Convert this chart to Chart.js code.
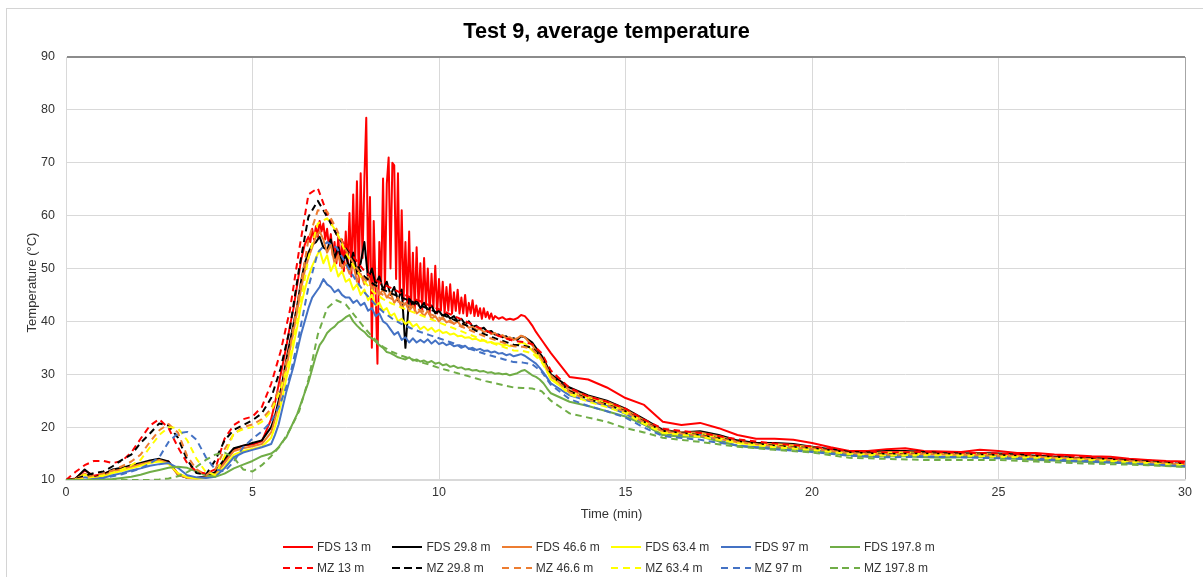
<!DOCTYPE html>
<html>
<head>
<meta charset="utf-8">
<title>Test 9, average temperature</title>
<script src="https://cdn.jsdelivr.net/npm/chart.js@4.4.1/dist/chart.umd.min.js"></script>
<style>
  html, body { margin: 0; padding: 0; background: #fff; overflow: hidden; }
  #wrap { position: relative; width: 1203px; height: 577px; overflow: hidden; }
  #frame { position: absolute; left: 6px; top: 8px; width: 1300px; height: 700px; border: 1px solid #d4d4d4; }
  #chart { position: absolute; left: 0; top: 0; }
  #legend { position: absolute; left: 0; top: 0; font: 12px "Liberation Sans", Arial, sans-serif; color: #333; }
  .item { position: absolute; height: 14px; line-height: 14px; white-space: nowrap; }
  .swatch { position: absolute; left: 0; top: 6px; width: 30px; height: 2px; }
  .txt { position: absolute; left: 34px; top: 0; }
</style>
</head>
<body>
<div id="wrap">
  <div id="frame"></div>
  <canvas id="chart" width="1203" height="577"></canvas>
  <div id="legend"></div>
</div>
<script>
const chartTitle = 'Test 9, average temperature';
const xTitle = 'Time (min)';
const yTitle = 'Temperature (°C)';

// time axis (min) for most FDS curves
const timeFds = [
  0, 0.25, 0.5, 0.75, 1, 1.25, 1.5, 1.75, 2, 2.25, 2.5, 2.75, 3, 3.25, 3.5, 3.75, 4, 4.25, 4.5, 4.75, 5, 5.25, 5.5,
  5.6, 5.7, 5.8, 5.9, 6, 6.1, 6.2, 6.3, 6.4, 6.5,
  6.6, 6.7, 6.8, 6.9, 7, 7.1, 7.2, 7.3, 7.4, 7.5,
  7.6, 7.7, 7.8, 7.9, 8, 8.1, 8.2, 8.3, 8.4, 8.5,
  8.6, 8.7, 8.8, 8.9, 9, 9.1, 9.2, 9.3, 9.4, 9.5,
  9.6, 9.7, 9.8, 9.9, 10, 10.1, 10.2, 10.3, 10.4, 10.5,
  10.6, 10.7, 10.8, 10.9, 11, 11.1, 11.2, 11.3, 11.4, 11.5,
  11.6, 11.7, 11.8, 11.9, 12, 12.1, 12.2, 12.3, 12.4, 12.5,
  12.6, 12.7, 12.8, 12.9, 13,
  13.5, 14, 14.5, 15, 15.5, 16, 16.5, 17, 17.5, 18, 18.5, 19, 19.5, 20, 20.5, 21, 21.5, 22, 22.5, 23,
  23.5, 24, 24.5, 25, 25.5, 26, 26.5, 27, 27.5, 28, 28.5, 29, 29.5, 30
];

const timeFds13 = [
  0, 0.25, 0.5, 0.75, 1, 1.25, 1.5, 1.75, 2, 2.25, 2.5, 2.75, 3, 3.25, 3.5, 3.75, 4, 4.25, 4.5, 4.75, 5, 5.25, 5.5,
  5.6, 5.7, 5.8, 5.9, 6, 6.1, 6.2, 6.3, 6.4,
  6.5, 6.55, 6.6, 6.65, 6.7, 6.75, 6.8, 6.85, 6.9, 6.95,
  7, 7.05, 7.1, 7.15, 7.2, 7.25, 7.3, 7.35, 7.4, 7.45,
  7.5, 7.55, 7.6, 7.65, 7.7, 7.75, 7.8, 7.85, 7.9, 7.95,
  8, 8.05, 8.1, 8.15, 8.2, 8.25, 8.3, 8.35, 8.4, 8.45,
  8.5, 8.55, 8.6, 8.65, 8.7, 8.75, 8.8, 8.85, 8.9, 8.95,
  9, 9.05, 9.1, 9.15, 9.2, 9.25, 9.3, 9.35, 9.4, 9.45,
  9.5, 9.55, 9.6, 9.65, 9.7, 9.75, 9.8, 9.85, 9.9, 9.95,
  10, 10.05, 10.1, 10.15, 10.2, 10.25, 10.3, 10.35, 10.4, 10.45,
  10.5, 10.55, 10.6, 10.65, 10.7, 10.75, 10.8, 10.85, 10.9, 10.95,
  11, 11.05, 11.1, 11.15, 11.2, 11.25, 11.3, 11.35, 11.4, 11.45, 11.5,
  11.6, 11.7, 11.8, 11.9, 12, 12.1, 12.2, 12.3, 12.4, 12.5,
  12.6, 12.7, 12.8, 12.9, 13,
  13.5, 14, 14.5, 15, 15.5, 16, 16.5, 17, 17.5, 18, 18.5, 19, 19.5, 20, 20.5, 21, 21.5, 22, 22.5, 23,
  23.5, 24, 24.5, 25, 25.5, 26, 26.5, 27, 27.5, 28, 28.5, 29, 29.5, 30
];

// time axis (min) for the MZ curves
const timeMz = [
  0, 0.25, 0.5, 0.75, 1, 1.25, 1.5, 1.75, 2, 2.25,
  2.5, 2.75, 3, 3.25, 3.5, 3.75, 4, 4.25, 4.5, 4.75,
  5, 5.25, 5.5, 5.75, 6, 6.25, 6.5, 6.75, 7, 7.25,
  7.5, 7.75, 8, 8.25, 8.5, 8.75, 9, 9.25, 9.5, 9.75,
  10, 10.25, 10.5, 10.75, 11, 11.25, 11.5, 11.75, 12, 12.25,
  12.5, 12.75, 13,
  13.5, 14, 14.5, 15, 15.5, 16,
  17, 18, 19, 20, 21, 22, 23, 24, 25, 26, 27, 28, 29, 30
];

const fds13 = [
  10, 10.3, 11.8, 10.8, 11.2, 11.8, 12.2, 12.5, 12.9, 13.5, 13.8, 13.5, 11.2, 10.5, 10.4, 10.6, 11.2, 13.5, 15.8, 16.5, 16.7, 17.3, 21.5,
  24.5, 28, 31.5, 35, 39, 42.5, 47, 51.5, 54.5,
  56, 55, 57.5, 55.5, 58, 56, 59, 57, 58.5, 55.5,
  57.5, 54, 56.5, 52.5, 55, 51, 56, 50.5, 55.5, 49.5,
  57, 50, 60.5, 48.5, 64, 50, 66.5, 47, 68, 52,
  67, 78.5, 49, 63.5, 35, 59, 46, 32, 55, 47,
  67, 46, 66, 71, 50, 70, 69.5, 48, 68, 45,
  61, 44, 55, 43.5, 57, 42.5, 53, 42, 54, 43,
  51, 42, 52, 43, 50, 41.5, 49, 42.5, 50.5, 41.5,
  48, 42, 47.5, 41.5, 46.5, 42, 47, 41.5, 45.5, 42,
  46, 41.5, 44.5, 41.5, 45, 41, 43.5, 41.5, 44, 41,
  43, 41, 42.5, 40.5, 42.5, 40.8, 41.8, 40.5, 41.5, 40.3, 41,
  40.5, 40.8, 40.3, 40.5, 40.3, 40.6, 41.2, 41, 40.2, 39.2,
  38, 37, 36, 35, 34,
  29.5, 29, 27.5, 25.5, 24.2, 21, 20.4, 20.8, 19.8, 18.5, 17.8, 17.8, 17.6, 17, 16.2, 15.5, 15.5, 15.8, 16, 15.5,
  15.4, 15.3, 15.7, 15.5, 15.1, 15.1, 14.8, 14.7, 14.5, 14.4, 14, 13.8, 13.6, 13.5
];
const fds29 = [
  10, 10.2, 12, 10.5, 11, 12, 12.3, 12.8, 13.2, 13.7, 14, 13.5, 11, 10.4, 10.4, 10.7, 11.5, 14, 16, 16.5, 17, 17.5, 20,
  22, 25, 28.5, 32.5, 36, 39.5, 43, 47.5, 51, 53,
  54.5, 55, 56, 54, 53.5, 55.5, 52, 54, 51, 52.5,
  50, 53, 49, 51, 55, 48, 50, 47, 48.5, 46,
  47.5, 45, 46.5, 44, 46, 35, 44.5, 43, 44, 42.5,
  43.5, 42, 43, 41.5, 42, 41, 41.5, 40.5, 41, 40,
  40.5, 39.5, 40, 39, 39.2, 38.5, 38.8, 38, 38.2, 37.5,
  37.5, 37, 37.2, 36.5, 36.8, 36.5, 37.2, 37, 36.5, 36,
  35, 34, 33, 31.5, 30,
  27.5, 26, 25, 23.5, 21.5, 19.5, 19, 19.2, 18.5, 17.5, 17, 17, 16.8, 16.3, 15.8, 15.3, 15.2, 15.5, 15.5, 15.3,
  15.1, 15, 15.1, 15, 14.8, 14.6, 14.4, 14.2, 14.1, 14, 13.7, 13.4, 13.1, 12.9
];
const fds46 = [
  10, 10.1, 11.2, 10.4, 10.8, 11.6, 12, 12.5, 13, 13.4, 13.8, 13.2, 11, 10.4, 10.3, 10.5, 11, 13.2, 15.5, 16, 16.4, 16.8, 19,
  21.5, 24, 27.5, 31, 34.5, 38, 42, 46, 49.5, 52,
  54, 56, 57, 55.5, 53, 54.5, 51, 52.5, 50, 51,
  49, 51, 47.5, 49, 47, 48.5, 46, 47, 45, 46,
  44.5, 45.5, 43.5, 44.5, 42.5, 43.5, 42, 43, 41.5, 42,
  41, 42, 40.5, 41, 40, 40.8, 39.8, 40.2, 39.5, 40,
  39, 39.5, 38.8, 39, 38.4, 38.6, 38, 38.2, 37.6, 37.8,
  37.2, 37.4, 36.8, 37, 36.5, 36.8, 37.3, 37, 36.2, 35.5,
  34.5, 33.5, 32.5, 31, 29.5,
  27, 25.8, 24.8, 23.3, 21.3, 19.3, 19, 19, 18.3, 17.3, 16.8, 16.8, 16.6, 16.2, 15.6, 15.1, 15, 15.3, 15.3, 15.1,
  14.9, 14.9, 15, 14.8, 14.6, 14.4, 14.2, 14, 13.9, 13.8, 13.5, 13.2, 13, 12.8
];
const fds63 = [
  10, 10.1, 11, 10.3, 10.6, 11.3, 11.7, 12.2, 12.7, 13.2, 13.5, 13, 11.3, 10.5, 10.3, 10.4, 10.8, 12.5, 14.8, 15.5, 15.9, 16.3, 18,
  20, 22.5, 25.5, 29, 32, 35.5, 39, 43, 46, 48.5,
  50.5, 52, 53.5, 51, 52.5, 49.5, 51, 48.5, 49.5, 47.5,
  48, 46, 47, 45, 46, 44, 45, 43, 43.5, 42,
  42.5, 41, 41.5, 40, 40.5, 39.5, 40, 39, 39.5, 38.5,
  39, 38.3, 38.8, 38, 38.4, 37.8, 38, 37.5, 37.7, 37.2,
  37.3, 36.9, 37, 36.6, 36.7, 36.3, 36.4, 36, 36.1, 35.8,
  35.8, 35.5, 35.6, 35.3, 35.4, 35.5, 36, 35.8, 35.2, 34.5,
  33.8, 33, 32, 30.5, 29,
  26.5, 25.5, 24.5, 23, 21, 19, 18.7, 18.7, 18, 17, 16.6, 16.6, 16.4, 16, 15.4, 14.9, 14.8, 15.1, 15.1, 14.9,
  14.8, 14.7, 14.8, 14.7, 14.5, 14.3, 14.1, 13.9, 13.8, 13.7, 13.4, 13.1, 12.9, 12.7
];
const fds97 = [
  10, 10, 10.5, 10.2, 10.4, 10.9, 11.3, 11.8, 12.2, 12.7, 13, 13.2, 12.3, 10.9, 10.5, 10.4, 10.6, 12.2, 14.3, 15.2, 15.7, 16.2, 16.8,
  18.5, 20.5, 23.5, 26.5, 29, 31.5, 34.5, 37.5, 40, 42.5,
  44.5, 45.5, 46.5, 48, 47, 46.5, 45.5, 46, 45, 44.5,
  44.5, 43.5, 44, 43, 43.5, 42, 42.5, 41, 41.5, 40,
  39.5, 38.5, 37.5, 38, 36.5, 37, 36, 36.8, 36, 36.5,
  36, 36.6, 35.8, 36.4, 35.7, 36, 35.5, 35.8, 35.3, 35.5,
  35, 35.4, 34.8, 35, 34.6, 34.8, 34.4, 34.5, 34.1, 34.3,
  33.9, 34, 33.6, 33.8, 33.4, 33.6, 33.8, 33.5, 33, 32.5,
  32, 31.2, 30.3, 29.3, 28.3,
  26, 25, 24, 22.5, 20.5, 18.5, 18.5, 18.5, 17.5, 16.5, 16.2, 16.2, 16, 15.7, 15.2, 14.8, 14.5, 14.7, 14.7, 14.5,
  14.4, 14.4, 14.5, 14.5, 14.2, 14, 13.9, 13.7, 13.6, 13.5, 13.2, 13, 12.8, 12.6
];
const fds197 = [
  10, 10, 10, 10, 10.1, 10.2, 10.4, 10.6, 11, 11.5, 11.9, 12.3, 12.5, 12.3, 11.6, 10.9, 10.6, 11.2, 12.2, 12.9, 13.6, 14.5, 15,
  15.5, 16.2, 17.2, 18, 19.5, 21, 22.5, 24.5, 26.5, 28.5,
  31, 33.5, 35.5, 36.5, 37.8, 38.5, 39, 39.8, 40.2, 40.8,
  41.2, 40, 39.2, 38.5, 38, 37.2, 36.8, 36.2, 35.5, 35,
  34.2, 34, 33.6, 33.2, 33, 32.8, 33.2, 32.6, 32.8, 32.4,
  32.6, 32.2, 32.5, 32, 32.2, 31.7, 31.9, 31.4, 31.6, 31.2,
  31.3, 30.9, 31, 30.7, 30.8, 30.5, 30.6, 30.3, 30.4, 30.1,
  30.2, 30, 30.1, 29.8, 30, 30.2, 30.6, 30.8, 30.3, 29.8,
  29.5, 29, 28.3, 27.3, 26.4,
  24.8, 24, 23, 22, 20.5, 18.5, 18.2, 18.2, 17.3, 16.5, 16.1, 16, 15.8, 15.5, 15.1, 14.7, 14.4, 14.5, 14.5, 14.3,
  14.2, 14.3, 14.3, 14.2, 14, 13.8, 13.7, 13.5, 13.4, 13.3, 13.1, 12.9, 12.7, 12.5
];

const mz13 = [
  10, 11.5, 12.8, 13.6, 13.6, 13.2, 13.6, 15.2, 17.8, 20.3,
  21.5, 19.8, 16.2, 13.2, 11.6, 11.2, 12, 17.8, 20.4, 21.5,
  22, 23.8, 28.2, 34.2, 42, 53.5, 64, 65.2, 60.4, 56.5,
  54.3, 51.8, 49.5, 48, 47, 46.2, 45.3, 44.5, 43.8, 43,
  42.3, 41.5, 40.7, 39.9, 39, 38.3, 37.5, 36.9, 36.3, 36.1,
  35.7, 34, 30.7,
  27.4, 25.8, 24.8, 23.5, 21.4, 19.7,
  18.9, 17.7, 16.9, 16.3, 15.5, 15.2, 15.3, 15.2, 15, 14.8, 14.5, 14.1, 13.7, 13.2
];
const mz29 = [
  10, 10.2, 10.8, 11.3, 11.6, 12.6, 13.8, 14.8, 17, 18.8,
  20.7, 20.3, 18, 13.8, 11.3, 11, 13.7, 17.5, 19.5, 20.4,
  21.3, 22.6, 25.5, 31, 38.5, 50, 59.8, 62.8, 59.8, 56.5,
  53.8, 51, 48.5, 47, 46, 45.2, 44.5, 43.8, 43, 42.3,
  41.5, 40.8, 40, 39.2, 38.2, 37.5, 36.8, 36.2, 35.6, 35.4,
  35, 33.3, 30,
  26.8, 25.3, 24.3, 23, 21, 19.3,
  18.5, 17.3, 16.5, 16, 15.2, 14.9, 15, 14.9, 14.7, 14.5, 14.2, 13.9, 13.5, 13
];
const mz46 = [
  10, 10.1, 10.4, 10.8, 11.2, 11.8, 12.6, 13.5, 14.8, 17.2,
  19.4, 20.6, 19, 14.5, 12, 10.9, 12, 15.8, 18.7, 20,
  20.5, 21.5, 23.5, 28, 35, 45, 55.5, 61, 60.8, 57.5,
  53.5, 50.5, 48, 46.2, 45, 44.2, 43.5, 42.8, 42.1, 41.4,
  40.7, 40, 39.3, 38.6, 37.8, 37.1, 36.5, 35.9, 35.3, 35.2,
  34.8, 33, 29.8,
  26.6, 25.2, 24.2, 22.9, 20.9, 19.2,
  18.4, 17.2, 16.4, 15.9, 15.1, 14.8, 14.9, 14.8, 14.6, 14.4, 14.1, 13.8, 13.4, 12.9
];
const mz63 = [
  10, 10, 10.2, 10.5, 10.9, 11.4, 12, 12.8, 13.8, 16.2,
  18.5, 20, 19.8, 17.5, 14, 11.5, 11, 14.5, 18.9, 19.6,
  20, 21, 23, 27, 33, 42, 52, 58.5, 59.5, 57,
  53, 50, 47.5, 45.5, 44.2, 43.3, 42.6, 41.9, 41.2, 40.5,
  39.8, 39.1, 38.4, 37.7, 37, 36.3, 35.7, 35.1, 34.5, 34.4,
  34, 32.3, 29.3,
  26.2, 24.8, 23.8, 22.6, 20.6, 18.9,
  18.2, 17, 16.2, 15.7, 14.9, 14.6, 14.7, 14.6, 14.4, 14.2, 13.9, 13.6, 13.2, 12.8
];
const mz97 = [
  10, 10, 10, 10.2, 10.4, 10.7, 11.1, 11.6, 12.2, 13.1,
  14.3, 17.2, 18.8, 19.1, 17.6, 14.3, 12, 11.6, 13.5, 16.2,
  17.8, 19.2, 21, 24.5, 29.5, 37.5, 46.5, 53, 55, 54,
  51, 48, 45.5, 43.5, 41.8, 40.5, 39.5, 38.7, 38, 37.4,
  36.8, 36.2, 35.6, 35, 34.4, 33.8, 33.3, 32.8, 32.3, 32.2,
  31.9, 30.5, 28,
  25.3, 24, 23, 21.8, 19.9, 18.3,
  17.6, 16.5, 15.8, 15.3, 14.6, 14.3, 14.4, 14.3, 14.1, 13.9, 13.6, 13.3, 13, 12.6
];
const mz197 = [
  10, 10, 10, 10, 10, 10, 10, 10, 10, 10,
  10.1, 10.3, 10.7, 11.5, 12.5, 13.8, 14.8, 15.2, 14.2, 12,
  11.6, 12.8, 14.5, 16.5, 19.5, 23, 29, 37.5, 42.5, 44,
  43.2, 41, 38.8, 36.8, 35.2, 34.2, 33.5, 32.9, 32.3, 31.8,
  31.2, 30.7, 30.2, 29.7, 29.2, 28.7, 28.3, 27.9, 27.5, 27.4,
  27.3, 26.8, 25,
  22.6, 21.8, 21, 19.8, 19, 18,
  17.2, 16.3, 15.7, 15.2, 14.2, 14, 13.8, 13.8, 13.8, 13.5, 13.2, 13, 12.8, 12.5
];

const seriesLabels = ['FDS 13 m', 'FDS 29.8 m', 'FDS 46.6 m', 'FDS 63.4 m', 'FDS 97 m', 'FDS 197.8 m',
                      'MZ 13 m', 'MZ 29.8 m', 'MZ 46.6 m', 'MZ 63.4 m', 'MZ 97 m', 'MZ 197.8 m'];
const seriesValues = [fds13, fds29, fds46, fds63, fds97, fds197, mz13, mz29, mz46, mz63, mz97, mz197];
const seriesTimes = [timeFds13, timeFds, timeFds, timeFds, timeFds, timeFds,
                     timeMz, timeMz, timeMz, timeMz, timeMz, timeMz];
const palette = ['#FF0000', '#000000', '#ED7D31', '#FFFF00', '#4472C4', '#70AD47'];

const FONT = '"Liberation Sans", Arial, Helvetica, sans-serif';
const TXT = '#333333';
const GRID = '#d9d9d9';

const datasets = seriesLabels.map((label, i) => {
  const isMz = i >= 6;
  const vals = seriesValues[i];
  return {
    label: label,
    data: seriesTimes[i].map((t, k) => ({ x: t, y: vals[k] })),
    borderColor: palette[i % 6],
    backgroundColor: palette[i % 6],
    borderWidth: 2,
    borderDash: isMz ? [6.5, 4.5] : [],
    borderJoinStyle: 'round',
    pointRadius: 0,
    tension: 0,
    fill: false,
    order: 12 - i   // later series sit on top, like the source chart
  };
});

// chart title and axis titles, placed where the source chart has them
const textsPlugin = {
  id: 'texts',
  afterDraw(chart) {
    const ctx = chart.ctx;
    const area = chart.chartArea;
    ctx.save();
    ctx.textAlign = 'center';
    ctx.textBaseline = 'middle';
    ctx.fillStyle = '#000';
    ctx.font = 'bold 21.7px ' + FONT;
    ctx.fillText(chartTitle, 606.5, 32);
    ctx.fillStyle = TXT;
    ctx.font = '13px ' + FONT;
    ctx.fillText(xTitle, (area.left + area.right) / 2 - 14, 514);
    ctx.translate(32, (area.top + area.bottom) / 2 + 14);
    ctx.rotate(-Math.PI / 2);
    ctx.fillText(yTitle, 0, 0);
    ctx.restore();
  }
};

new Chart(document.getElementById('chart').getContext('2d'), {
  type: 'line',
  data: { datasets: datasets },
  plugins: [textsPlugin],
  options: {
    responsive: false,
    animation: false,
    events: [],
    layout: { padding: { left: 0, right: 18, top: 57, bottom: 0 } },
    plugins: {
      legend: { display: false },
      tooltip: { enabled: false },
      title: { display: false }
    },
    scales: {
      x: {
        type: 'linear', min: 0, max: 30,
        ticks: { stepSize: 5, padding: 5, color: TXT, font: { family: FONT, size: 12.5 } },
        grid: {
          color: c => (c.tick && c.tick.value === 30) ? '#a6a6a6' : GRID,
          drawTicks: false
        },
        border: { color: GRID, width: 1.5 },
        afterFit: s => { s.height = 97; }
      },
      y: {
        min: 10, max: 90,
        ticks: { stepSize: 10, padding: 11, color: TXT, font: { family: FONT, size: 12.5 } },
        grid: {
          color: c => (c.tick && c.tick.value === 90) ? '#8c8c8c' : GRID,
          lineWidth: c => (c.tick && c.tick.value === 90) ? 2 : 1,
          drawTicks: false
        },
        border: { color: GRID },
        afterFit: s => { s.width = 66; }
      }
    }
  }
});

// legend: two rows of six, laid out like the source chart
const legend = document.getElementById('legend');
seriesLabels.forEach((label, i) => {
  const col = i % 6, row = Math.floor(i / 6);
  const color = palette[col];
  const item = document.createElement('div');
  item.className = 'item';
  item.style.left = (283 + col * 109.4) + 'px';
  item.style.top = (540 + row * 21) + 'px';
  const sw = document.createElement('div');
  sw.className = 'swatch';
  sw.style.background = row === 0 ? color
    : 'repeating-linear-gradient(to right, ' + color + ' 0 7.5px, transparent 7.5px 12px)';
  const tx = document.createElement('span');
  tx.className = 'txt';
  tx.textContent = label;
  item.appendChild(sw);
  item.appendChild(tx);
  legend.appendChild(item);
});
</script>
</body>
</html>
